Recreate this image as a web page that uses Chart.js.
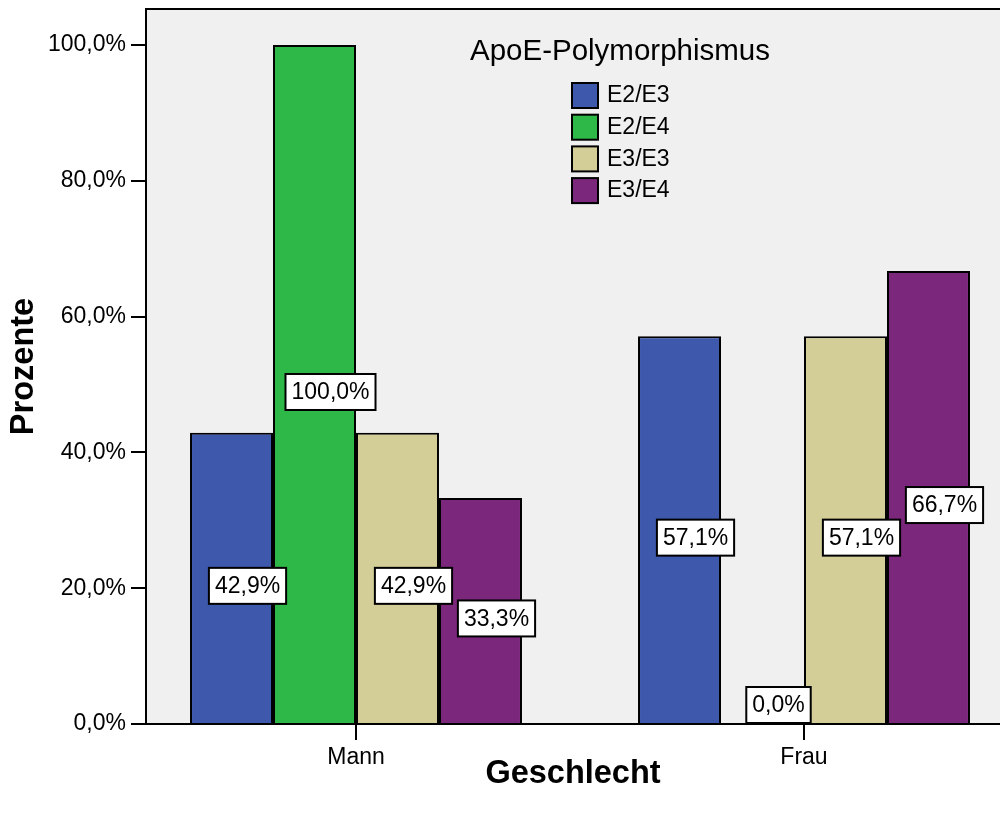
<!DOCTYPE html>
<html>
<head>
<meta charset="utf-8">
<script src="https://cdn.jsdelivr.net/npm/chart.js@4"></script>
<style>
  body { margin: 0; background: #fff; }
  #wrap { width: 1000px; height: 815px; position: relative; }
</style>
</head>
<body>
<div id="wrap"><canvas id="apoeChart"></canvas></div>
<script>
// Werte aus der SPSS-Grafik
const categories = ['Mann', 'Frau'];
const genotypes = ['E2/E3', 'E2/E4', 'E3/E3', 'E3/E4'];
const e2e3 = [42.9, 57.1];
const e2e4 = [100.0, 0.0];
const e3e3 = [42.9, 57.1];
const e3e4 = [33.3, 66.7];
const yTicks = [0, 20, 40, 60, 80, 100];

const colors = ['#3e58ac', '#2eb848', '#d3ce97', '#7b287c'];
const FONT = '"Liberation Sans", Arial, Helvetica, sans-serif';

function fmt(v) {
    return v.toFixed(1).replace('.', ',') + '%';
}

function toPoints(values) {
    return values.map((v, i) => ({ x: i, y: v }));
}

// Hintergrund der Plotfläche + obere Linie
const plotBg = {
    id: 'plotBg',
    beforeDraw(chart) {
        const { ctx, chartArea: a } = chart;
        ctx.save();
        ctx.fillStyle = '#f0f0f0';
        ctx.fillRect(a.left, a.top, a.right - a.left, a.bottom - a.top);
        ctx.strokeStyle = '#000';
        ctx.lineWidth = 2;
        ctx.beginPath();
        ctx.moveTo(a.left, a.top);
        ctx.lineTo(a.right, a.top);
        ctx.stroke();
        ctx.restore();
    }
};

// Beschriftung der Balken (weiße Kästchen)
const barLabels = {
    id: 'barLabels',
    afterDatasetsDraw(chart) {
        const ctx = chart.ctx;
        ctx.save();
        ctx.font = '23px ' + FONT;
        ctx.textAlign = 'center';
        ctx.textBaseline = 'middle';
        chart.data.datasets.forEach((ds, i) => {
            chart.getDatasetMeta(i).data.forEach((bar, j) => {
                const text = fmt(ds.data[j].y);
                const w = ctx.measureText(text).width + 12;
                const h = 36;
                const cx = bar.x + 16;
                let cy = (bar.y + bar.base) / 2 + 8;
                cy = Math.min(cy, bar.base - h / 2 - 1);
                ctx.fillStyle = '#fff';
                ctx.fillRect(cx - w / 2, cy - h / 2, w, h);
                ctx.strokeStyle = '#000';
                ctx.lineWidth = 2;
                ctx.strokeRect(cx - w / 2, cy - h / 2, w, h);
                ctx.fillStyle = '#000';
                ctx.fillText(text, cx, cy + 1);
            });
        });
        ctx.restore();
    }
};

// Legende innerhalb der Plotfläche
const innerLegend = {
    id: 'innerLegend',
    afterDraw(chart) {
        const ctx = chart.ctx;
        ctx.save();
        ctx.fillStyle = '#000';
        ctx.textBaseline = 'middle';
        ctx.textAlign = 'center';
        ctx.font = '29.5px ' + FONT;
        ctx.fillText('ApoE-Polymorphismus', 620, 52);
        ctx.textAlign = 'left';
        ctx.font = '23px ' + FONT;
        chart.data.datasets.forEach((ds, i) => {
            const y = 83 + i * 31.7;
            ctx.fillStyle = ds.backgroundColor;
            ctx.fillRect(572, y, 26, 25);
            ctx.strokeStyle = '#000';
            ctx.lineWidth = 2;
            ctx.strokeRect(572, y, 26, 25);
            ctx.fillStyle = '#000';
            ctx.fillText(ds.label, 607, y + 13);
        });
        ctx.restore();
    }
};

const seriesValues = [e2e3, e2e4, e3e3, e3e4];

const ctx = document.getElementById('apoeChart').getContext('2d');
const apoeChart = new Chart(ctx, {
    type: 'bar',
    data: {
        datasets: genotypes.map((g, i) => ({
            label: g,
            data: toPoints(seriesValues[i]),
            backgroundColor: colors[i],
            borderColor: '#000',
            borderWidth: 2,
            categoryPercentage: 0.741,
            barPercentage: 1.0
        }))
    },
    options: {
        responsive: true,
        maintainAspectRatio: false,
        animation: false,
        layout: { padding: { top: 9, left: 0, right: 0, bottom: 0 } },
        plugins: {
            legend: { display: false },
            tooltip: { enabled: false }
        },
        scales: {
            x: {
                type: 'linear',
                min: -0.46875,
                max: 1.4375,
                offset: false,
                z: 1,
                afterBuildTicks: (axis) => {
                    axis.ticks = categories.map((c, i) => ({ value: i }));
                },
                afterFit: (scale) => {
                    scale.height = 91;
                    scale.paddingLeft = 0;
                    scale.paddingRight = 0;
                },
                grid: {
                    offset: false,
                    drawOnChartArea: false,
                    drawTicks: true,
                    tickLength: 16,
                    color: '#000',
                    lineWidth: 2
                },
                border: { display: true, color: '#000', width: 2 },
                ticks: {
                    color: '#000',
                    font: { size: 23, family: FONT },
                    padding: 4,
                    maxRotation: 0,
                    autoSkip: false,
                    callback: (v) => categories[v]
                },
                title: {
                    display: true,
                    text: 'Geschlecht',
                    color: '#000',
                    font: { size: 32.5, weight: 'bold', family: FONT },
                    padding: { top: 0, bottom: 21 }
                }
            },
            y: {
                min: 0,
                max: 105.3,
                z: 1,
                afterBuildTicks: (axis) => {
                    axis.ticks = yTicks.map(v => ({ value: v }));
                },
                afterFit: (scale) => {
                    scale.width = 146;
                    scale.paddingTop = 0;
                    scale.paddingBottom = 0;
                },
                grid: {
                    drawOnChartArea: false,
                    drawTicks: true,
                    tickLength: 15,
                    color: '#000',
                    lineWidth: 2
                },
                border: { display: true, color: '#000', width: 2 },
                ticks: {
                    color: '#000',
                    font: { size: 23, family: FONT },
                    padding: 5,
                    callback: (v) => fmt(v)
                },
                title: {
                    display: true,
                    text: 'Prozente',
                    color: '#000',
                    font: { size: 32.5, weight: 'bold', family: FONT },
                    padding: { top: 5, bottom: 0 }
                }
            }
        }
    },
    plugins: [plotBg, barLabels, innerLegend]
});
</script>
</body>
</html>
